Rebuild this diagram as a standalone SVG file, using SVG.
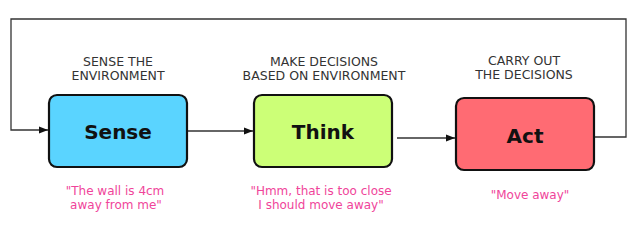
<svg xmlns="http://www.w3.org/2000/svg" width="641" height="227" viewBox="0 0 641 227">
<style>
.box{stroke:#111;stroke-width:2.2}
.title{font-family:"DejaVu Sans",sans-serif;font-weight:bold;font-size:20px;fill:#111;text-anchor:middle}
.lbl{font-family:"DejaVu Sans",sans-serif;font-size:12.5px;fill:#333;text-anchor:middle}
.note{font-family:"DejaVu Sans",sans-serif;font-size:12px;fill:#f0449a;text-anchor:middle}
.con{fill:none;stroke:#333;stroke-width:1.3}
</style>
<defs>
<marker id="ah" viewBox="0 0 10 10" refX="10" refY="5" markerWidth="9" markerHeight="9" markerUnits="userSpaceOnUse" orient="auto">
<path d="M0,1 L10,5 L0,9 z" fill="#111"/>
</marker>
</defs>
<rect width="641" height="227" fill="#fff"/>
<g id="connectors">
<path class="con" d="M594,137 H626 V19 H11 V130 H48" marker-end="url(#ah)"/>
<path class="con" d="M188,131 H253" marker-end="url(#ah)"/>
<path class="con" d="M397,138 H455" marker-end="url(#ah)"/>
</g>
<g id="sense">
<text class="lbl" x="118" y="66">SENSE THE</text>
<text class="lbl" x="118" y="80">ENVIRONMENT</text>
<rect class="box" x="49" y="95" width="138" height="72" rx="8" fill="#5ad4ff"/>
<text class="title" x="118" y="139">Sense</text>
<text class="note" x="115" y="195">"The wall is 4cm</text>
<text class="note" x="116" y="209">away from me"</text>
</g>
<g id="think">
<text class="lbl" x="324" y="66">MAKE DECISIONS</text>
<text class="lbl" x="324" y="80">BASED ON ENVIRONMENT</text>
<rect class="box" x="254" y="95" width="138" height="72" rx="8" fill="#ccff77"/>
<text class="title" x="323" y="139">Think</text>
<text class="note" x="321" y="195">"Hmm, that is too close</text>
<text class="note" x="321" y="209">I should move away"</text>
</g>
<g id="act">
<text class="lbl" x="524" y="65">CARRY OUT</text>
<text class="lbl" x="524" y="79">THE DECISIONS</text>
<rect class="box" x="456" y="98" width="138" height="72" rx="8" fill="#ff6b73"/>
<text class="title" x="525" y="143">Act</text>
<text class="note" x="530" y="199">"Move away"</text>
</g>
</svg>
